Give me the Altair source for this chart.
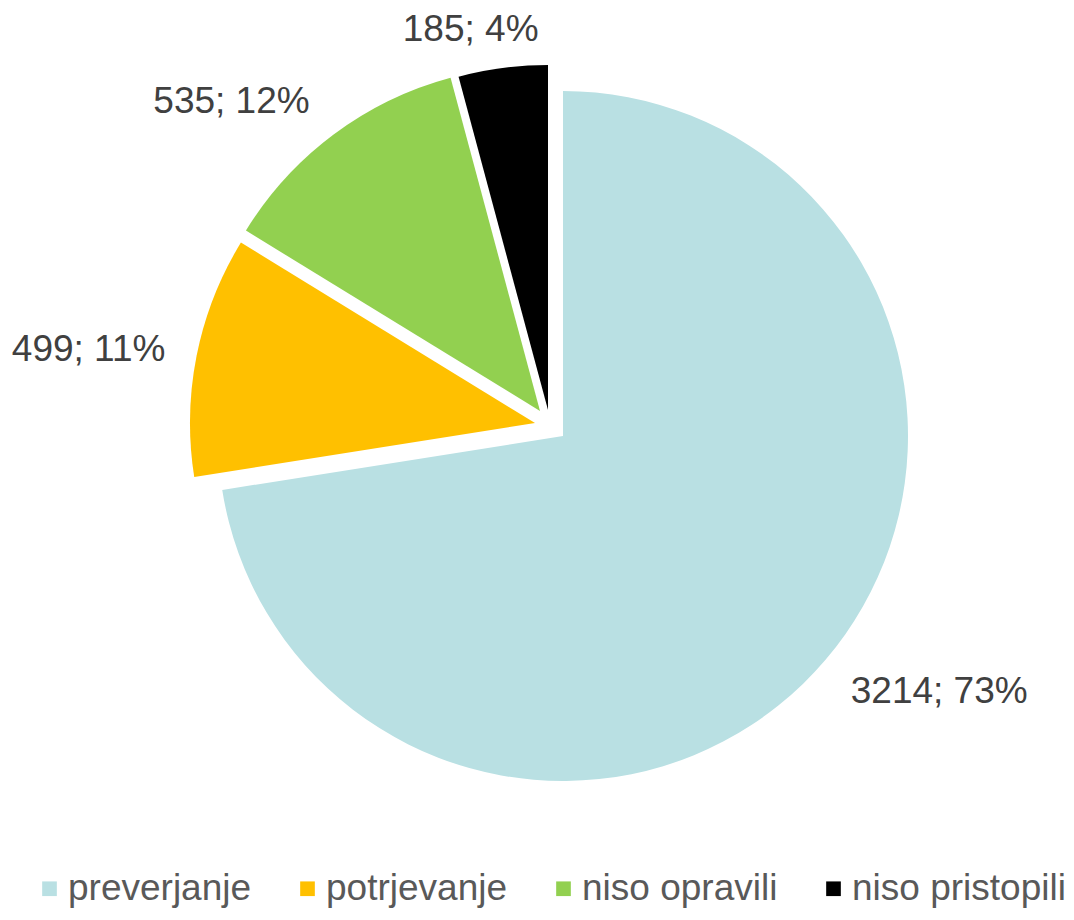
import altair as alt
import pandas as pd

categories = ["preverjanje", "potrjevanje", "niso opravili", "niso pristopili"]
values = [3214, 499, 535, 185]
colors = ["#B9E0E3", "#FFC000", "#92D050", "#000000"]

df = pd.DataFrame({"category": categories, "value": values, "order": list(range(len(categories)))})

R = 345
# per-slice explosion offsets and label placement (layout only)
slice_style = [
    dict(xo=26, yo=-24, align="left", dx=-5, dy=6),
    dict(xo=-2, yo=-37, align="right", dx=8, dy=2),
    dict(xo=3, yo=-49, align="right", dx=0, dy=-1),
    dict(xo=11, yo=-50, align="center", dx=-27, dy=2),
]

base = (
    alt.Chart(df)
    .transform_joinaggregate(total="sum(value)")
    .transform_window(cum="sum(value)", sort=[alt.SortField("order")])
    .transform_calculate(a0="2*PI*(datum.cum - datum.value)/datum.total")
    .transform_calculate(a1="2*PI*datum.cum/datum.total")
    .transform_calculate(am="(datum.a0 + datum.a1)/2")
    .transform_calculate(
        label="datum.value + '; ' + format(100*datum.value/datum.total, '.0f') + '%'"
    )
)

color = alt.Color(
    "category:N",
    scale=alt.Scale(domain=categories, range=colors),
    sort=categories,
    legend=alt.Legend(
        title=None,
        orient="none",
        legendX=23,
        legendY=862,
        direction="horizontal",
        symbolType="square",
        symbolSize=215,
        symbolStrokeWidth=0,
        labelFontSize=37,
        labelFont="Liberation Sans",
        labelColor="#595959",
        labelLimit=400,
        labelOffset=0,
        columnPadding=37,
        padding=0,
    ),
)

layers = []
for i, st in enumerate(slice_style):
    sub = base.transform_filter(f"datum.order == {i}")
    arc = sub.mark_arc(radius=R, xOffset=st["xo"], yOffset=st["yo"], stroke=None).encode(
        theta=alt.Theta("a0:Q", scale=None),
        theta2="a1:Q",
        color=color,
    )
    txt = sub.mark_text(
        radius=R + 40,
        xOffset=st["xo"],
        yOffset=st["yo"],
        align=st["align"],
        baseline="middle",
        dx=st["dx"],
        dy=st["dy"],
        fontSize=37,
        font="Liberation Sans",
        color="#404040",
    ).encode(theta=alt.Theta("am:Q", scale=None), text="label:N")
    layers += [arc, txt]

chart = (
    alt.layer(*layers)
    .properties(width=1058, height=904, padding=0, autosize=alt.AutoSizeParams(type="none"))
    .configure_view(stroke=None)
)

chart.save("out.html", embed_options={"renderer": "svg", "actions": False})
